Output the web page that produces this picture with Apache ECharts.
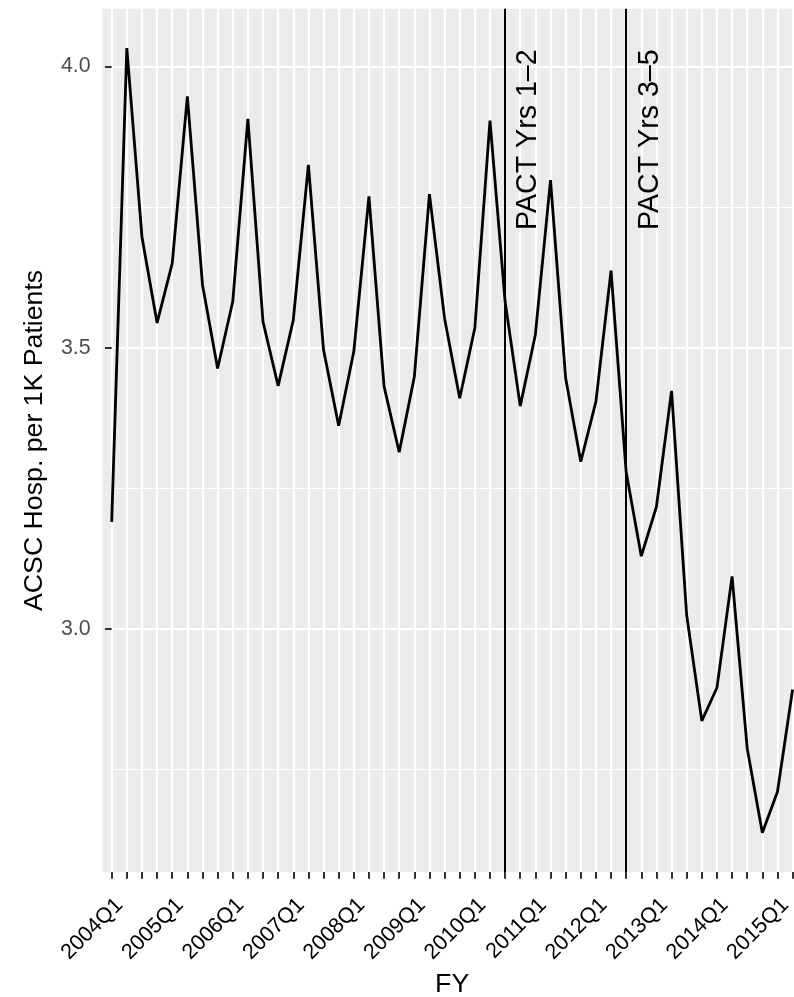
<!DOCTYPE html>
<html>
<head>
<meta charset="utf-8">
<script src="https://cdn.jsdelivr.net/npm/echarts@6/dist/echarts.min.js"></script>
<style>
html,body{margin:0;padding:0;background:#fff;}
#chart{width:794px;height:997px;}
</style>
</head>
<body>
<div id="chart"></div>
<script>
const quarters = ['2004Q1','2004Q2','2004Q3','2004Q4','2005Q1','2005Q2','2005Q3','2005Q4',
  '2006Q1','2006Q2','2006Q3','2006Q4','2007Q1','2007Q2','2007Q3','2007Q4',
  '2008Q1','2008Q2','2008Q3','2008Q4','2009Q1','2009Q2','2009Q3','2009Q4',
  '2010Q1','2010Q2','2010Q3','2010Q4','2011Q1','2011Q2','2011Q3','2011Q4',
  '2012Q1','2012Q2','2012Q3','2012Q4','2013Q1','2013Q2','2013Q3','2013Q4',
  '2014Q1','2014Q2','2014Q3','2014Q4','2015Q1','2015Q2'];
const hospRate = [3.190, 4.033, 3.697, 3.544, 3.650, 3.947, 3.612, 3.463,
  3.582, 3.907, 3.546, 3.432, 3.549, 3.825, 3.496, 3.361,
  3.493, 3.769, 3.431, 3.314, 3.448, 3.773, 3.552, 3.410,
  3.535, 3.904, 3.582, 3.396, 3.523, 3.798, 3.446, 3.297,
  3.404, 3.637, 3.279, 3.129, 3.217, 3.423, 3.024, 2.836,
  2.895, 3.093, 2.787, 2.637, 2.710, 2.892];
const yTicks = [3.0, 3.5, 4.0];
const yMinorTicks = [2.75, 3.25, 3.75];
const phaseStarts = ['2010Q3', '2012Q3'];
const phaseLabels = ['PACT Yrs 1\u20132', 'PACT Yrs 3\u20135'];
const phaseLabelY = 3.87;

const FONT = "'Liberation Sans', Arial, Helvetica, sans-serif";
const dMin = Math.min(...hospRate), dMax = Math.max(...hospRate);
const pad = (dMax - dMin) * 0.05;
const yMin = dMin - pad, yMax = dMax + pad;

const chart = echarts.init(document.getElementById('chart'), null, {renderer: 'canvas'});
const option = {
  animation: false,
  backgroundColor: '#ffffff',
  graphic: {
    elements: [{
      type: 'rect', z: -10, silent: true,
      shape: {x: 102.6, y: 8.8, width: 700, height: 863.2},
      style: {fill: '#EBEBEB'}
    }]
  },
  grid: {left: 111.7, right: 1.4, top: 8.8, bottom: 125, containLabel: false, outerBoundsMode: 'none'},
  xAxis: {
    type: 'value', min: 0, max: quarters.length - 1, interval: 1,
    name: 'FY', nameLocation: 'middle', nameGap: 99,
    nameTextStyle: {fontFamily: FONT, fontSize: 26.7, color: '#000'},
    axisLine: {show: false},
    axisTick: {show: true, length: 6.7, lineStyle: {color: '#333333', width: 2}},
    axisLabel: {
      show: true, rotate: 45, align: 'right', verticalAlign: 'top', margin: 22,
      fontFamily: FONT, fontSize: 21.6, color: '#000',
      formatter: v => (v % 4 === 0 ? quarters[v] : ''),
      showMinLabel: true, showMaxLabel: true
    },
    splitLine: {show: true, lineStyle: {color: '#ffffff', width: 2.2}}
  },
  yAxis: [{
    type: 'value', min: yMin, max: yMax, offset: 9,
    name: 'ACSC Hosp. per 1K Patients', nameLocation: 'middle', nameRotate: 90, nameGap: 55,
    nameTextStyle: {fontFamily: FONT, fontSize: 26.7, color: '#000'},
    axisLine: {show: false},
    axisTick: {show: true, length: 6.7, lineStyle: {color: '#333333', width: 2}, customValues: yTicks},
    axisLabel: {
      show: true, customValues: yTicks, margin: 12,
      fontFamily: FONT, fontSize: 21.4, color: '#4D4D4D',
      formatter: v => v.toFixed(1)
    },
    splitLine: {show: true, lineStyle: {color: '#ffffff', width: 2.2}}
  }, {
    type: 'value', min: yMin, max: yMax, position: 'left',
    axisLine: {show: false},
    axisTick: {show: false, customValues: yMinorTicks},
    axisLabel: {show: false, customValues: yMinorTicks},
    splitLine: {show: true, lineStyle: {color: '#ffffff', width: 1.1}}
  }],
  series: [{
    type: 'line',
    yAxisIndex: 0,
    data: hospRate.map((v, i) => [i, v]),
    symbol: 'none',
    clip: false,
    lineStyle: {color: '#000000', width: 2.8},
    silent: true,
    markLine: {
      silent: true,
      symbol: ['none', 'none'],
      label: {show: false},
      lineStyle: {color: '#000000', width: 2, type: 'solid'},
      data: phaseStarts.map(q => ({xAxis: quarters.indexOf(q)}))
    }
  }, {
    type: 'scatter',
    yAxisIndex: 0,
    symbolSize: 0,
    silent: true,
    clip: false,
    itemStyle: {opacity: 1},
    data: phaseStarts.map((q, k) => ({value: [quarters.indexOf(q) + 1.55, phaseLabelY], name: phaseLabels[k]})),
    label: {
      show: true, position: 'inside', rotate: 90,
      formatter: p => p.name,
      fontFamily: FONT, fontSize: 28.6, color: '#000000', opacity: 1,
      textBorderWidth: 0, textBorderColor: 'transparent', textShadowBlur: 0
    }
  }]
};
chart.setOption(option);
</script>
</body>
</html>
